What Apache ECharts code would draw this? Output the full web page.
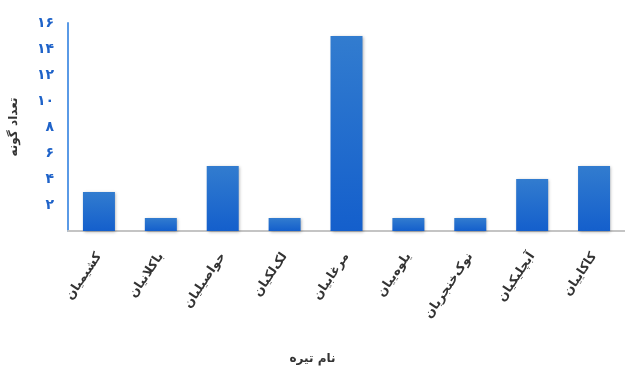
<!DOCTYPE html>
<html><head><meta charset="utf-8">
<script src="https://cdn.jsdelivr.net/npm/echarts@6/dist/echarts.min.js"></script>
<style>html,body{margin:0;padding:0;background:#fff}#c{width:625px;height:367px}</style>
</head><body><div id="c"></div>
<script>
const categories = ['کشیمیان','باکلانیان','حواصیلیان','لک‌لکیان','مرغابیان','یلوه‌ییان','نوک‌خنجریان','آبچلیکیان','کاکاییان'];
const speciesCount = [3, 1, 5, 1, 15, 1, 1, 4, 5];
const yTickValues = [2, 4, 6, 8, 10, 12, 14, 16];
const yTickLabels = ['۲','۴','۶','۸','۱۰','۱۲','۱۴','۱۶'];
const yAxisTitle = 'تعداد گونه';
const xAxisTitle = 'نام تیره';

const chart = echarts.init(document.getElementById('c'));
chart.setOption({
  animation: false,
  textStyle: { fontFamily: 'DejaVu Sans' },
  title: {
    text: xAxisTitle, left: 'center', top: 348,
    textStyle: { fontSize: 12, fontWeight: 'bold', color: '#333', fontFamily: 'DejaVu Sans' }
  },
  grid: { left: 66, top: 23, width: 568, height: 208, containLabel: false },
  xAxis: {
    type: 'category', data: categories,
    axisLine: { lineStyle: { color: '#c4c4c4', width: 2 } },
    axisTick: { show: false },
    axisLabel: { rotate: 56, margin: 23, fontSize: 12.5, fontWeight: 'bold', color: '#333', interval: 0 }
  },
  yAxis: {
    type: 'value', min: 0, max: 16, interval: 2,
    name: yAxisTitle, nameLocation: 'middle', nameGap: 48, nameRotate: 90,
    nameTextStyle: { fontSize: 12, fontWeight: 'bold', color: '#333' },
    axisLine: { show: true, lineStyle: { color: '#5a9ae6', width: 2 } },
    axisTick: { show: false },
    splitLine: { show: false },
    axisLabel: {
      margin: 14, fontSize: 14, fontWeight: 'bold', color: '#1f63c9',
      formatter: function (v) { const i = yTickValues.indexOf(v); return i >= 0 ? yTickLabels[i] : ''; }
    }
  },
  series: [{
    type: 'bar', data: speciesCount, barWidth: 32,
    itemStyle: {
      color: new echarts.graphic.LinearGradient(0, 0, 0, 1, [
        { offset: 0, color: '#327ccf' }, { offset: 1, color: '#145fcc' }
      ]),
      shadowColor: 'rgba(0,0,0,0.3)', shadowBlur: 3, shadowOffsetX: 1, shadowOffsetY: 1
    }
  }]
});
</script></body></html>
